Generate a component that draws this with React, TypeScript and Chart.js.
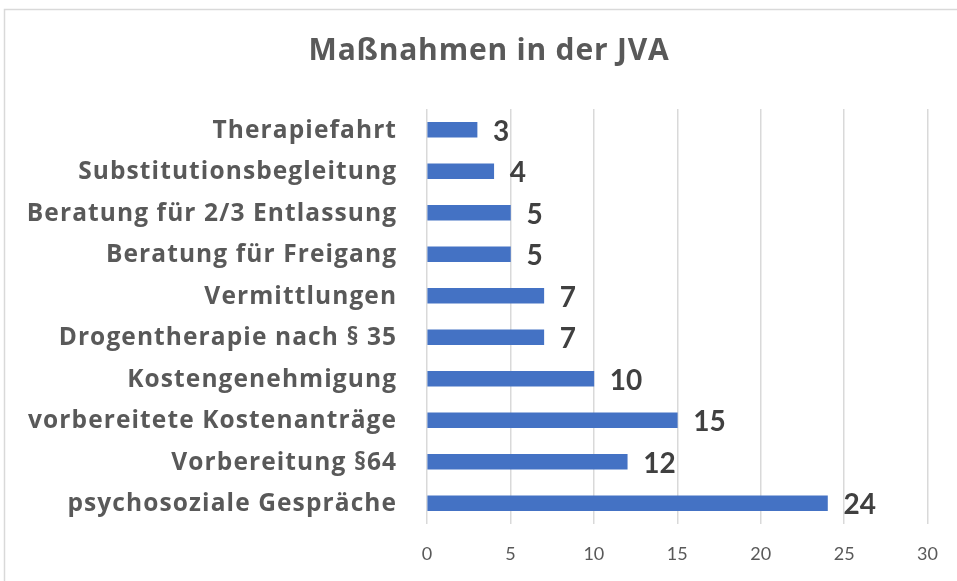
import React, { useEffect, useRef } from "react";
import { Chart, registerables } from "chart.js";

Chart.register(...registerables);

const title = "Maßnahmen in der JVA";
const categories = [
  "Therapiefahrt",
  "Substitutionsbegleitung",
  "Beratung für 2/3 Entlassung",
  "Beratung für Freigang",
  "Vermittlungen",
  "Drogentherapie nach § 35",
  "Kostengenehmigung",
  "vorbereitete Kostenanträge",
  "Vorbereitung §64",
  "psychosoziale Gespräche",
];
const values = [3, 4, 5, 5, 7, 7, 10, 15, 12, 24];
const xMin = 0;
const xMax = 30;
const xStep = 5;

const FONT = "Lato, 'Open Sans', sans-serif";
const FONT_OS = "'Open Sans', Lato, sans-serif";

export default function App() {
  const ref = useRef<HTMLCanvasElement | null>(null);

  useEffect(() => {
    document.body.style.margin = "0";
    const canvas = ref.current;
    if (!canvas) return;

    const decor = {
      id: "decor",
      beforeDraw(chart: any) {
        const ctx = chart.ctx;
        ctx.save();
        ctx.fillStyle = "#ffffff";
        ctx.fillRect(0, 0, chart.width, chart.height);
        ctx.strokeStyle = "#d9d9d9";
        ctx.lineWidth = 1.5;
        ctx.strokeRect(4.5, 9.5, chart.width + 20, chart.height + 20);
        ctx.restore();
      },
      afterDraw(chart: any) {
        const ctx = chart.ctx;
        ctx.save();
        ctx.fillStyle = "#595959";
        ctx.font = `bold 30px ${FONT_OS}`;
        (ctx as any).letterSpacing = "0.8px";
        ctx.textAlign = "center";
        ctx.textBaseline = "middle";
        ctx.fillText(title, 489, 51);

        // category labels
        const ls = 1.1;
        (ctx as any).letterSpacing = `${ls}px`;
        ctx.font = `bold 24.5px ${FONT_OS}`;
        ctx.textAlign = "right";
        const yScale = chart.scales.y;
        categories.forEach((c, i) => {
          ctx.fillText(c, chart.chartArea.left - 31 + ls, yScale.getPixelForValue(i) + 1);
        });
        ctx.restore();
      },
      afterDatasetsDraw(chart: any) {
        const ctx = chart.ctx;
        const meta = chart.getDatasetMeta(0);
        ctx.save();
        ctx.fillStyle = "#404040";
        ctx.font = `bold 28px ${FONT}`;
        ctx.textAlign = "left";
        ctx.textBaseline = "middle";
        meta.data.forEach((bar: any, i: number) => {
          ctx.fillText(String(values[i]), bar.x + 16, bar.y + 2);
        });
        ctx.restore();
      },
    };

    const chart = new Chart(canvas, {
      type: "bar",
      data: {
        labels: categories,
        datasets: [
          {
            data: values,
            backgroundColor: "#4472C4",
            borderWidth: 0,
            barThickness: 15,
          },
        ],
      },
      options: {
        indexAxis: "y",
        animation: false,
        responsive: false,
        layout: { padding: { top: 109, right: 29, left: 0, bottom: 0 } },
        plugins: {
          legend: { display: false },
          title: { display: false },
          tooltip: { enabled: false },
        },
        scales: {
          x: {
            min: xMin,
            max: xMax,
            border: { display: false },
            grid: { color: "#d9d9d9", lineWidth: 1.5, drawTicks: false },
            ticks: {
              stepSize: xStep,
              padding: 19,
              color: "#595959",
              font: { family: FONT, size: 18 },
            },
            afterFit(scale: any) {
              scale.height = 57;
            },
          },
          y: {
            border: { display: false },
            grid: { display: false, drawTicks: false },
            ticks: { display: false },
            afterFit(scale: any) {
              scale.width = 427;
            },
          },
        },
      },
      plugins: [decor],
    } as any);

    return () => chart.destroy();
  }, []);

  return (
    <div style={{ width: 957, height: 581 }}>
      <canvas ref={ref} width={957} height={581} />
    </div>
  );
}
